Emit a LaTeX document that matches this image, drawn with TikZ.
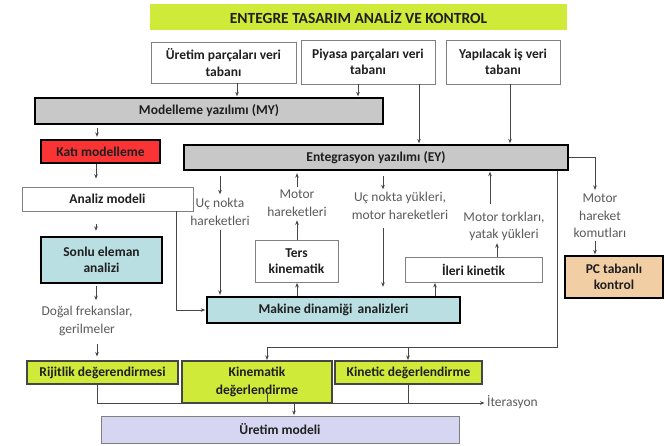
\documentclass[tikz,border=0pt]{standalone}
\usepackage{fontspec}
\setmainfont{Carlito}
\usetikzlibrary{arrows.meta}
\definecolor{lime}{RGB}{208,234,58}
\definecolor{boxgray}{RGB}{200,200,200}
\definecolor{katired}{RGB}{250,52,52}
\definecolor{cyanbox}{RGB}{185,223,226}
\definecolor{tanbox}{RGB}{242,206,165}
\definecolor{lavbox}{RGB}{214,214,242}
\definecolor{linegray}{RGB}{70,70,70}
\definecolor{thingray}{RGB}{128,128,128}
\definecolor{notegray}{RGB}{90,90,90}
\begin{document}
\begin{tikzpicture}[x=1pt,y=-1pt,
  lbl/.style={font=\fontsize{13.5}{16.5}\selectfont\bfseries, text=black!88, align=center, inner sep=0pt},
  thinbox/.style={lbl, draw=thingray, line width=0.9pt, fill=white},
  thickbox/.style={lbl, draw=black, line width=2.4pt},
  limebox/.style={lbl, draw=linegray, line width=1.1pt, fill=lime},
  note/.style={font=\fontsize{13.5}{17.5}\selectfont, text=notegray, align=center, inner sep=0pt},
  conn/.style={draw=linegray, line width=0.8pt},
  arr/.style={conn, -{Stealth[length=4.5pt,width=3.6pt]}, shorten >=0.5pt}
]
\useasboundingbox (0,0) rectangle (665,446);
% title
\node[lbl, fill=lime, minimum width=417pt, minimum height=26pt, font=\fontsize{15.5}{18}\selectfont\bfseries] (title) at (358.5,17) {ENTEGRE TASARIM ANALİZ VE KONTROL};
% databases
\node[thinbox, minimum width=145pt, minimum height=41pt] (uretim) at (223.5,62.5) {Üretim parçaları veri\\tabanı};
\node[thinbox, minimum width=134pt, minimum height=44pt] (piyasa) at (368,62) {Piyasa parçaları veri\\tabanı};
\node[thinbox, minimum width=114pt, minimum height=44pt] (yap) at (503,62) {Yapılacak iş veri\\tabanı};
% software
\node[thickbox, fill=boxgray, minimum width=348pt, minimum height=26pt] (my) at (209,111) {Modelleme yazılımı (MY)};
\node[thickbox, fill=katired, minimum width=119pt, minimum height=23pt] (kati) at (100.5,151.5) {Katı modelleme};
\node[thickbox, fill=boxgray, minimum width=384pt, minimum height=25pt] (ey) at (376,157.5) {Entegrasyon yazılımı (EY)};
\node[thinbox, minimum width=171pt, minimum height=24pt] (analiz) at (107.5,199) {Analiz modeli};
\node[thickbox, fill=cyanbox, minimum width=121pt, minimum height=46pt] (sonlu) at (101.5,260) {Sonlu eleman\\analizi};
\node[thinbox, minimum width=83pt, minimum height=42pt] (ters) at (296.5,261) {Ters\\kinematik};
\node[thinbox, minimum width=137pt, minimum height=25pt] (ileri) at (473.5,269.5) {İleri kinetik};
\node[thickbox, fill=tanbox, minimum width=98pt, minimum height=42pt] (pc) at (614,277) {PC tabanlı\\kontrol};
\node[thickbox, fill=cyanbox, minimum width=253pt, minimum height=26pt] (makine) at (333.5,310) {Makine dinamiği\, analizleri};
% evaluation
\node[limebox, minimum width=151pt, minimum height=23pt] (rijit) at (102.5,372.5) {Rijitlik değerendirmesi};
\node[limebox, minimum width=150pt, minimum height=42pt, font=\fontsize{13.5}{17.5}\selectfont\bfseries] (kinem) at (257,382) {Kinematik\\değerlendirme};
\node[limebox, minimum width=147pt, minimum height=23pt] (kinet) at (408.5,372.5) {Kinetic değerlendirme};
\node[lbl, draw=thingray, line width=0.9pt, fill=lavbox, minimum width=358pt, minimum height=27pt] (uretm) at (280,429.5) {Üretim modeli};
% notes
\node[note] (tuc) at (220,212) {Uç nokta\\hareketleri};
\node[note] (tmh) at (297,203) {Motor\\hareketleri};
\node[note] (tuy) at (400,206) {Uç nokta yükleri,\\motor hareketleri};
\node[note] (tmt) at (504,226.5) {Motor torkları,\\yatak yükleri};
\node[note] (tmhk) at (600,216) {Motor\\hareket\\komutları};
\node[note] (tdog) at (87,321) {Doğal frekanslar,\\gerilmeler};
\node[note, anchor=west] (titer) at (487,402) {İterasyon};
% junction coordinates
\coordinate (jr) at (557,347);
\coordinate (jl) at (267,347);
\coordinate (jb) at (97,403);
\coordinate (je) at (485,403);
% connectors top
\draw[arr] (237,0 |- uretim.south) -- (237,0 |- my.north);
\draw[arr] (358,0 |- piyasa.south) -- (358,0 |- my.north);
\draw[arr] (419,0 |- piyasa.south) -- (419,0 |- ey.north);
\draw[arr] (510,0 |- yap.south) -- (510,0 |- ey.north);
% left chain
\draw[arr, shorten <=3pt, shorten >=2pt] (97,0 |- my.south) -- (97,0 |- kati.north);
\draw[arr, shorten >=8pt] (96,0 |- kati.south) -- (96,0 |- analiz.north);
\draw[arr, shorten <=13pt, shorten >=5pt] (96,0 |- analiz.south) -- (96,0 |- sonlu.north);
\draw[arr, shorten <=2pt, shorten >=6pt] (96,0 |- sonlu.south) -- (96,0 |- tdog.north);
\draw[arr, shorten <=8pt, shorten >=4pt] (97,0 |- tdog.south) -- (97,0 |- rijit.north);
\draw[arr] (176,0 |- analiz.south) |- (makine.west);
% EY down/up
\draw[arr, shorten <=5pt, shorten >=4pt] (220,0 |- ey.south) -- (220,0 |- tuc.north);
\draw[arr, shorten <=4pt, shorten >=1pt] (220,0 |- tuc.south) -- (220,0 |- makine.north);
\draw[arr] (297,0 |- makine.north) -- (297,0 |- ters.south);
\draw[arr, shorten >=4pt] (297,0 |- ters.north) -- (297,0 |- tmh.south);
\draw[arr, shorten <=3pt, shorten >=2pt] (297,0 |- tmh.north) -- (297,0 |- ey.south);
\draw[arr, shorten <=5pt, shorten >=3pt] (383,0 |- ey.south) -- (383,0 |- tuy.north);
\draw[arr, shorten <=8pt, shorten >=9pt] (383,0 |- tuy.south) -- (383,0 |- makine.north);
\draw[arr] (435,0 |- makine.north) -- (435,0 |- ileri.south);
\draw[arr, shorten >=2pt] (497,0 |- ileri.north) -- (497,0 |- tmt.south);
\draw[arr, shorten <=8pt] (490,0 |- tmt.north) -- (490,0 |- ey.south);
\draw[arr, shorten >=4pt] (ey.east) -| (595,0 |- tmhk.north);
\draw[arr, shorten <=3pt] (595,0 |- tmhk.south) -- (595,0 |- pc.north);
% evaluation connectors
\draw[conn] (557,0 |- ey.south) -- (jr) -- (jl);
\draw[arr] (jl) -- (267,0 |- kinem.north);
\draw[arr] (408,0 |- jr) -- (408,0 |- kinet.north);
\draw[conn] (97,0 |- rijit.south) -- (jb);
\draw[arr] (jb) -- (je);
\draw[conn] (408,0 |- kinet.south) -- (408,403);
\draw[conn] (267,393) -- (267,403);
\draw[arr] (294,403) -- (294,0 |- uretm.north);
\end{tikzpicture}
\end{document}
